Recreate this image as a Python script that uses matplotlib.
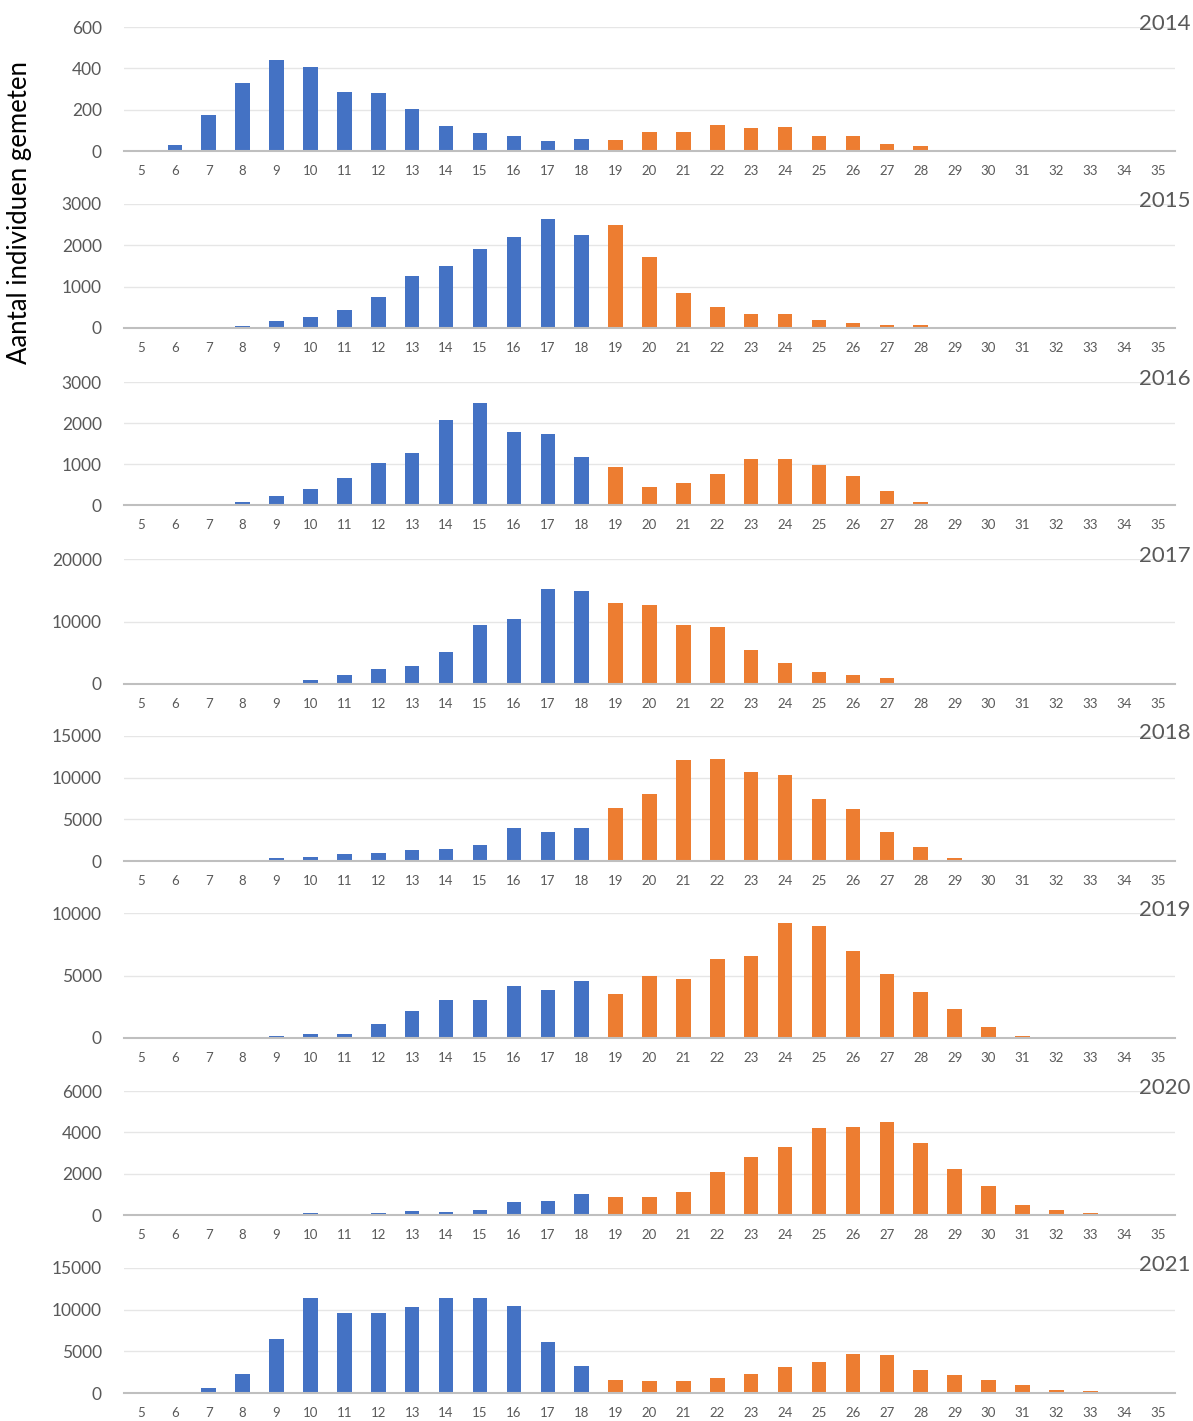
import matplotlib
matplotlib.use("Agg")
import matplotlib.pyplot as plt
import numpy as np

plt.rcParams['font.family'] = ['Lato', 'DejaVu Sans']

lengths = list(range(5, 36))  # 5..35
split_at = 19                 # from 19 on: orange

years = ["2014", "2015", "2016", "2017", "2018", "2019", "2020", "2021"]

v2014 = [0, 27, 172, 330, 442, 405, 286, 280, 205, 123, 86, 71, 47, 58,
         53, 91, 91, 125, 109, 115, 71, 71, 32, 22, 0, 0, 0, 0, 0, 0, 0]
v2015 = [0, 0, 0, 60, 170, 260, 440, 740, 1250, 1500, 1900, 2200, 2630, 2250,
         2490, 1720, 850, 520, 330, 330, 200, 115, 65, 65, 0, 0, 0, 0, 0, 0, 0]
v2016 = [0, 0, 0, 70, 220, 390, 660, 1030, 1270, 2070, 2490, 1780, 1720, 1160,
         920, 430, 540, 760, 1110, 1110, 970, 710, 350, 70, 0, 0, 0, 0, 0, 0, 0]
v2017 = [0, 0, 0, 0, 0, 640, 1500, 2400, 2950, 5050, 9450, 10450, 15200, 14850,
         12900, 12700, 9450, 9200, 5500, 3400, 2000, 1500, 950, 0, 0, 0, 0, 0, 0, 0, 0]
v2018 = [0, 0, 0, 0, 320, 480, 840, 960, 1380, 1500, 1900, 3980, 3480, 3980,
         6380, 8050, 12100, 12250, 10700, 10300, 7400, 6250, 3500, 1650, 330, 0, 0, 0, 0, 0, 0]
v2019 = [0, 0, 0, 110, 190, 350, 350, 1160, 2130, 3010, 3010, 4150, 3880, 4600,
         3530, 4950, 4760, 6350, 6540, 9170, 8930, 6970, 5140, 3710, 2310, 890, 190, 110, 0, 0, 0]
v2020 = [0, 0, 0, 0, 0, 80, 20, 80, 200, 150, 250, 620, 670, 1000,
         850, 850, 1100, 2080, 2830, 3300, 4220, 4270, 4480, 3470, 2220, 1420, 460, 250, 80, 0, 0]
v2021 = [0, 0, 600, 2300, 6500, 11450, 9550, 9550, 10350, 11450, 11450, 10450, 6150, 3250,
         1600, 1500, 1500, 1800, 2300, 3150, 3750, 4700, 4600, 2750, 2150, 1550, 1000, 350, 250, 0, 0]

series = [v2014, v2015, v2016, v2017, v2018, v2019, v2020, v2021]
yticks = [
    [0, 200, 400, 600],
    [0, 1000, 2000, 3000],
    [0, 1000, 2000, 3000],
    [0, 10000, 20000],
    [0, 5000, 10000, 15000],
    [0, 5000, 10000],
    [0, 2000, 4000, 6000],
    [0, 5000, 10000, 15000],
]

W, H = 1193, 1421
fig = plt.figure(figsize=(W / 100, H / 100), dpi=100)

tops = [27, 204, 382, 559, 736, 913, 1091, 1268]
bots = [151, 328, 505, 684, 861, 1038, 1215, 1393]
left_px, right_px = 124, 1175

blue = "#4472C4"
orange = "#ED7D31"
grey_txt = "#595959"

x = np.array(lengths)
for i, (yr, vals, yt) in enumerate(zip(years, series, yticks)):
    ax = fig.add_axes([left_px / W, 1 - bots[i] / H,
                       (right_px - left_px) / W, (bots[i] - tops[i]) / H])
    cols = [blue if l < split_at else orange for l in lengths]
    ax.bar(x, vals, width=0.43, color=cols, edgecolor="none", zorder=3)
    ax.set_xlim(4.5, 35.5)
    ax.set_ylim(0, yt[-1])
    ax.set_yticks(yt)
    ax.set_yticklabels([str(t) for t in yt], fontsize=12.5, color=grey_txt)
    ax.set_xticks(x)
    ax.set_xticklabels([str(l) for l in lengths], fontsize=9.5, color=grey_txt)
    ax.tick_params(axis='y', length=0, pad=16)
    ax.tick_params(axis='x', length=0, pad=10)
    ax.yaxis.grid(True, color="#E6E6E6", linewidth=1.0, zorder=0)
    ax.set_axisbelow(True)
    for s in ["top", "right", "left"]:
        ax.spines[s].set_visible(False)
    ax.spines["bottom"].set_color("#BFBFBF")
    ax.spines["bottom"].set_linewidth(1.5)
    ax.spines["bottom"].set_zorder(4)
    fig.text(1191 / W, 1 - (tops[i] - 3) / H, yr, ha="right", va="center",
             fontsize=16, color=grey_txt)

fig.text(20 / W, 1 - 213 / H, "Aantal individuen gemeten", rotation=90,
         ha="center", va="center", fontsize=18.5, color="black")

fig.savefig("out.png", dpi=100)
